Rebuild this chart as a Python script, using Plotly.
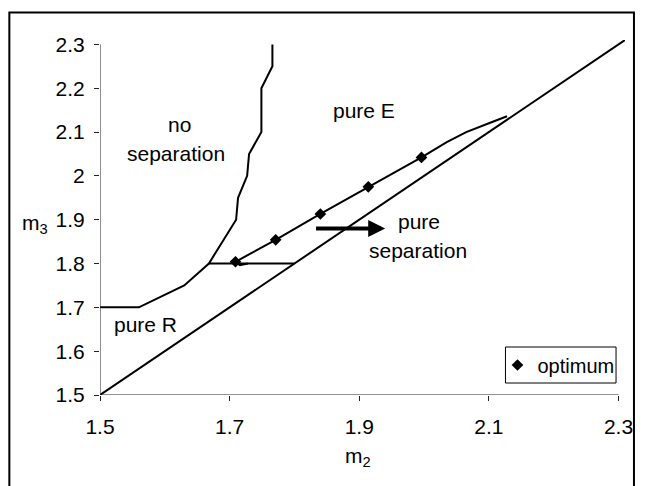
import plotly.graph_objects as go

# Boundary between "no separation" and the rest of the (m2, m3) plane
nosep_m2 = [1.5, 1.56, 1.63, 1.668, 1.71, 1.713, 1.727, 1.73, 1.749, 1.749, 1.766, 1.766]
nosep_m3 = [1.7, 1.7, 1.75, 1.8, 1.9, 1.95, 2.0, 2.05, 2.1, 2.2, 2.25, 2.3]

# Horizontal boundary of the pure R / pure E regions at m3 = 1.8
ledge_m2 = [1.668, 1.8]
ledge_m3 = [1.8, 1.8]

# Diagonal m3 = m2
diag_m2 = [1.5, 2.31]
diag_m3 = [1.5, 2.31]

# Upper boundary of the pure separation region
puresep_m2 = [1.728, 1.716, 1.709, 1.771, 1.84, 1.914, 1.996, 2.035, 2.065, 2.10, 2.128]
puresep_m3 = [1.80, 1.796, 1.804, 1.854, 1.913, 1.975, 2.042, 2.077, 2.100, 2.12, 2.136]

# Optimum operating points
opt_m2 = [1.709, 1.771, 1.84, 1.914, 1.996]
opt_m3 = [1.804, 1.854, 1.913, 1.975, 2.042]

# Tick labels
x_ticks = [1.5, 1.7, 1.9, 2.1, 2.3]
x_ticktext = ["1.5", "1.7", "1.9", "2.1", "2.3"]
y_ticks = [1.5, 1.6, 1.7, 1.8, 1.9, 2.0, 2.1, 2.2, 2.3]
y_ticktext = ["1.5", "1.6", "1.7", "1.8", "1.9", "2", "2.1", "2.2", "2.3"]

# Region labels: (text, m2, m3)
region_labels = [
    ("no", 1.623, 2.117),
    ("separation", 1.618, 2.052),
    ("pure E", 1.908, 2.149),
    ("pure", 1.992, 1.895),
    ("separation", 1.991, 1.830),
    ("pure R", 1.570, 1.661),
]

# Direction arrow
arrow_from = (1.831, 1.88)
arrow_to = (1.94, 1.88)

FONT = "Liberation Sans"
FS = 21
line_style = dict(color="black", width=2)

# Plot-area geometry in pixels (used for paper-referenced decorations)
L, R, T, B = 100, 18, 40, 91
PW, PH = 645 - L - R, 486 - T - B


def px_x(px):
    return (px - L) / PW


def px_y(py):
    return (486 - B - py) / PH


fig = go.Figure()
fig.add_trace(go.Scatter(x=diag_m2, y=diag_m3, mode="lines", line=line_style,
                         showlegend=False, hoverinfo="skip"))
fig.add_trace(go.Scatter(x=nosep_m2, y=nosep_m3, mode="lines", line=line_style,
                         showlegend=False, hoverinfo="skip"))
fig.add_trace(go.Scatter(x=ledge_m2, y=ledge_m3, mode="lines", line=line_style,
                         showlegend=False, hoverinfo="skip"))
fig.add_trace(go.Scatter(x=puresep_m2, y=puresep_m3, mode="lines", line=line_style,
                         showlegend=False, hoverinfo="skip"))
fig.add_trace(go.Scatter(x=opt_m2, y=opt_m3, mode="markers", name="optimum",
                         marker=dict(symbol="diamond", size=9, color="black")))

txt_font = dict(family=FONT, size=FS, color="black")
annotations = []
for text, xv, yv in region_labels:
    annotations.append(dict(x=xv, y=yv, xref="x", yref="y", text=text,
                            xanchor="center", yanchor="middle",
                            showarrow=False, font=txt_font))

annotations.append(dict(x=arrow_to[0], y=arrow_to[1], ax=arrow_from[0], ay=arrow_from[1],
                        xref="x", yref="y", axref="x", ayref="y", text="",
                        showarrow=True, arrowhead=2, arrowsize=0.85, arrowwidth=4,
                        arrowcolor="black"))

# Axis titles
annotations.append(dict(x=px_x(359), y=px_y(457), xref="paper", yref="paper",
                        xanchor="center", yanchor="middle",
                        text="m<sub>2</sub>", showarrow=False, font=txt_font))
annotations.append(dict(x=px_x(35), y=px_y(224), xref="paper", yref="paper",
                        xanchor="center", yanchor="middle",
                        text="m<sub>3</sub>", showarrow=False, font=txt_font))

shapes = [
    # outer frame
    dict(type="rect", xref="paper", yref="paper", x0=px_x(9), x1=px_x(636),
         y0=px_y(500), y1=px_y(12.5), line=dict(color="black", width=2)),
    # legend frame
    dict(type="rect", xref="paper", yref="paper", x0=px_x(507), x1=px_x(618),
         y0=px_y(383), y1=px_y(347), line=dict(color="black", width=1)),
    # axis lines
    dict(type="line", xref="x", yref="y", x0=1.5, x1=2.3, y0=1.5, y1=1.5,
         line=dict(color="#222", width=1)),
    dict(type="line", xref="x", yref="y", x0=1.5, x1=1.5, y0=1.5, y1=2.3,
         line=dict(color="#222", width=1)),
]

fig.update_layout(
    width=645, height=486,
    margin=dict(l=L, r=R, t=T, b=B),
    paper_bgcolor="white", plot_bgcolor="white",
    font=txt_font,
    annotations=annotations,
    shapes=shapes,
    showlegend=True,
    legend=dict(x=px_x(499), y=px_y(365), xanchor="left", yanchor="middle",
                borderwidth=0, bgcolor="rgba(0,0,0,0)",
                font=dict(family=FONT, size=20, color="black")),
)
fig.update_xaxes(range=[1.5, 2.31], showgrid=False, zeroline=False, showline=False,
                 ticks="outside", ticklen=5, tickwidth=1, tickcolor="#222",
                 ticklabelstandoff=8,
                 tickvals=x_ticks, ticktext=x_ticktext)
fig.update_yaxes(range=[1.5, 2.31], showgrid=False, zeroline=False, showline=False,
                 ticks="outside", ticklen=5, tickwidth=1, tickcolor="#222",
                 ticklabelstandoff=5,
                 tickvals=y_ticks, ticktext=y_ticktext)

fig.write_html("out.html")
